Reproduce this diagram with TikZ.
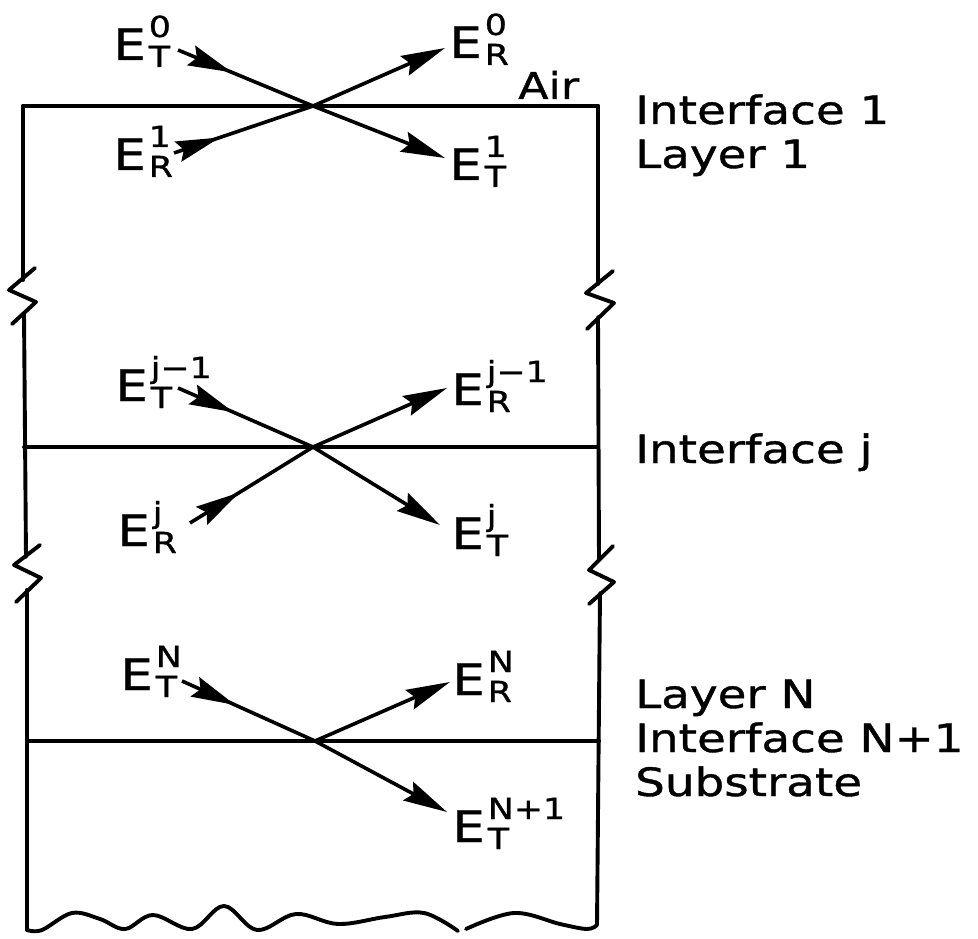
\documentclass[tikz,border=0pt]{standalone}
\usepackage{fontspec}
\setmainfont{DejaVu Sans}[FakeStretch=1.2, FakeBold=1]
\usetikzlibrary{arrows.meta,decorations.markings}
\newcommand{\bigf}{\fontsize{43}{46}\selectfont}
\newcommand{\lblf}{\fontsize{39}{42}\selectfont}
\newcommand{\smf}{\fontsize{29}{31}\selectfont}
\newcommand{\EL}[2]{\bigf E\kern3pt\rlap{\raisebox{23pt}{\smf #1}}\raisebox{-7pt}{\smf #2}}
\begin{document}
\begin{tikzpicture}[x=1pt,y=-1pt,
  wall/.style={line width=3.9pt, line join=round, line cap=round},
  ray/.style={line width=3.6pt},
  tip/.style={-{Stealth[length=44pt,width=21pt,inset=6pt]}},
  midtip/.style={postaction={decorate}, decoration={markings, mark=at position #1 with {\arrow{Stealth[length=44pt,width=21pt,inset=6pt]}}}},
  lbl/.style={inner sep=0pt, anchor=base west}]
\useasboundingbox (0,0) rectangle (978,939);
% box walls
\draw[wall] (23,106) -- (598,106);
\draw[wall] (23,106) -- (23,280);
\draw[wall] (35,268) -- (9,290) -- (36,302) -- (12,324);
\draw[wall] (24,313) -- (26,557);
\draw[wall] (40,545) -- (14,565) -- (41,578) -- (16,602);
\draw[wall] (27,590) -- (27,930);
\draw[wall] (598,106) -- (598,284);
\draw[wall] (613,271) -- (586,293) -- (614,303) -- (587,329);
\draw[wall] (598,317) -- (599,560);
\draw[wall] (613,546) -- (589,570) -- (614,582) -- (589,604);
\draw[wall] (600,593) -- (597,925);
\draw[wall] (24,447) -- (598,447);
\draw[wall] (27,741) -- (599,741);
\draw[wall] plot[smooth, tension=0.6] coordinates {(27,930) (42,930) (72,913) (100,919) (125,929) (153,915) (192,929) (224,906) (257,930) (296,914) (338,924) (385,917) (424,913) (458,931)};
\draw[wall] plot[smooth, tension=0.6] coordinates {(466,929) (514,913) (560,924) (587,929) (597,925)};
% interface 1
\coordinate (X1) at (313,106);
\coordinate (s0) at (178,50);
\coordinate (t1) at (445,158);
\coordinate (s1) at (174,153);
\coordinate (r0) at (445,48);
\draw[ray, midtip=0.4] (s0) -- (X1);
\draw[ray, tip] (X1) -- (t1);
\draw[ray, midtip=0.33] (s1) -- (X1);
\draw[ray, tip] (X1) -- (r0);
% interface j
\coordinate (Xj) at (313,447);
\coordinate (sj1) at (178,388);
\coordinate (rj1) at (447,388);
\coordinate (sj) at (190,523);
\coordinate (tj) at (440,525);
\draw[ray, midtip=0.41] (sj1) -- (Xj);
\draw[ray, tip] (Xj) -- (rj1);
\draw[ray, midtip=0.4] (sj) -- (Xj);
\draw[ray, tip] (Xj) -- (tj);
% interface N+1
\coordinate (XN) at (315,741);
\coordinate (sN) at (182,681);
\coordinate (rN) at (450,682);
\coordinate (tN1) at (447,812);
\draw[ray, midtip=0.4] (sN) -- (XN);
\draw[ray, tip] (XN) -- (rN);
\draw[ray, tip] (XN) -- (tN1);
% field labels
\node[lbl] (ET0) at (113,60) {\EL{0}{T}};
\node[lbl] (ER0) at (449,58) {\EL{0}{R}};
\node[lbl] (air) at (518,99) {\fontsize{37}{40}\selectfont Air};
\node[lbl] (ER1) at (113,170) {\EL{1}{R}};
\node[lbl] (ET1) at (449,180) {\EL{1}{T}};
\node[lbl] (ETj1) at (115,401) {\EL{j−1}{T}};
\node[lbl] (ERj1) at (451,405) {\EL{j−1}{R}};
\node[lbl] (ERj) at (117,546) {\EL{j}{R}};
\node[lbl] (ETj) at (451,549) {\EL{j}{T}};
\node[lbl] (ETN) at (120,690) {\EL{N}{T}};
\node[lbl] (ERN) at (452,695) {\EL{N}{R}};
\node[lbl] (ETN1) at (452,842) {\EL{N+1}{T}};
% side labels
\node[lbl] (if1) at (635,124) {\lblf Interface 1};
\node[lbl] (ly1) at (635,168) {\lblf Layer 1};
\node[lbl] (ifj) at (635,463) {\lblf Interface j};
\node[lbl] (lyN) at (635,708) {\lblf Layer N};
\node[lbl] (ifN) at (635,752) {\lblf Interface N+1};
\node[lbl] (sub) at (635,796) {\lblf Substrate};
\end{tikzpicture}
\end{document}
